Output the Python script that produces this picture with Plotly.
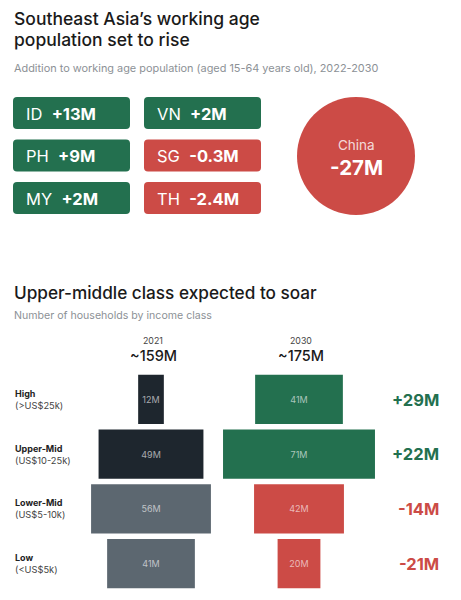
import plotly.graph_objects as go

W, H = 461, 600

# ---------------- data ----------------
tile_codes = ["ID", "PH", "MY", "VN", "SG", "TH"]
tile_values = [13, 9, 2, 2, -0.3, -2.4]
tile_labels = ["+13M", "+9M", "+2M", "+2M", "-0.3M", "-2.4M"]
china_label = "China"
china_value = -27
china_text = "-27M"

classes = ["High", "Upper-Mid", "Lower-Mid", "Low"]
class_ranges = ["(>US$25k)", "(US$10-25k)", "(US$5-10k)", "(<US$5k)"]
years = ["2021", "2030"]
totals = ["~159M", "~175M"]
hh_2021 = [12, 49, 56, 41]
hh_2030 = [41, 71, 42, 20]
changes = [29, 22, -14, -21]

# ---------------- style ----------------
GREEN = "#23704f"
RED = "#cc4b46"
NAVY = "#1e262e"
GREY = "#5c6770"
TXT = "#1a1a1a"
SUB = "#8c9196"
FONT = "Inter"

def px(x):
    return x / W

def py(y):
    return 1 - y / H

def rrect(x0, y0, x1, y1, r):
    X0, X1 = px(x0), px(x1)
    Y0, Y1 = py(y0), py(y1)
    rx, ry = r / W, r / H
    return (f"M {X0+rx},{Y0} L {X1-rx},{Y0} Q {X1},{Y0} {X1},{Y0-ry} "
            f"L {X1},{Y1+ry} Q {X1},{Y1} {X1-rx},{Y1} L {X0+rx},{Y1} "
            f"Q {X0},{Y1} {X0},{Y1+ry} L {X0},{Y0-ry} Q {X0},{Y0} {X0+rx},{Y0} Z")

fig = go.Figure()

# bottom chart: centred bars (scale: px per million)
scale = 2.14
xmax = W / scale
c21, c30 = 151 / scale, 299 / scale
for vals, centre, colors in [
    (hh_2021, c21, [NAVY, NAVY, GREY, GREY]),
    (hh_2030, c30, [GREEN if c > 0 else RED for c in changes]),
]:
    fig.add_trace(go.Bar(
        y=classes, x=vals, base=[centre - v / 2 for v in vals],
        orientation="h", marker=dict(color=colors, line=dict(width=0)),
        width=0.9, text=[f"{v}M" for v in vals], textposition="inside",
        insidetextanchor="middle", constraintext="none",
        textfont=dict(size=9, color="rgba(255,255,255,0.62)", family=FONT),
        hoverinfo="skip", showlegend=False,
    ))

fig.update_layout(
    width=W, height=H, margin=dict(l=0, r=0, t=0, b=0),
    paper_bgcolor="white", plot_bgcolor="white",
    barmode="overlay",
    xaxis=dict(range=[0, xmax], visible=False, domain=[0, 1], fixedrange=True),
    yaxis=dict(categoryorder="array", categoryarray=classes, range=[3.5, -0.5],
               visible=False, domain=[py(591), py(372)], fixedrange=True),
    font=dict(family=FONT, color=TXT),
)

ann = []
def A(x, y, text, size, color=TXT, xanchor="left", weight=None, **kw):
    d = dict(x=px(x), y=py(y), xref="paper", yref="paper", text=text,
             showarrow=False, xanchor=xanchor, yanchor="middle",
             font=dict(size=size, color=color, family=FONT))
    if weight:
        d["font"]["weight"] = weight
    d.update(kw)
    ann.append(d)

# titles
A(12, 18, "Southeast Asia’s working age", 17.5, weight=500)
A(12, 40, "population set to rise", 17.5, weight=500)
A(12, 68, "Addition to working age population (aged 15-64 years old), 2022-2030", 10.9, SUB)

# tiles
shapes = []
col_x = [13, 144]
row_y = [97, 139.5, 182]
tw, th = 117, 32
for i, (code, val, lab) in enumerate(zip(tile_codes, tile_values, tile_labels)):
    cx, ry = col_x[i // 3], row_y[i % 3]
    col = GREEN if val > 0 else RED
    shapes.append(dict(type="path", path=rrect(cx, ry, cx + tw, ry + th, 4),
                       xref="paper", yref="paper", fillcolor=col, line=dict(width=0),
                       layer="below"))
    A(cx + 11, ry + th / 2 + 0.5, f"{code}  <b>{lab}</b>", 16.5, "white")

# China circle
ccx, ccy, cr = 356, 156, 59
shapes.append(dict(type="circle", xref="paper", yref="paper",
                   x0=px(ccx - cr), x1=px(ccx + cr), y0=py(ccy + cr), y1=py(ccy - cr),
                   fillcolor=RED if china_value < 0 else GREEN, line=dict(width=0),
                   layer="below"))
A(ccx, 145, china_label, 13.5, "rgba(255,255,255,0.8)", xanchor="center")
A(ccx, 167, f"<b>{china_text}</b>", 20.5, "white", xanchor="center")

# bottom titles
A(12, 292, "Upper-middle class expected to soar", 17.2, weight=500)
A(12, 316, "Number of households by income class", 10.6, SUB)

for yr, tot, c in zip(years, totals, [c21, c30]):
    xpix = c * scale + 2
    A(xpix, 340, yr, 8.8, "#444", xanchor="center")
    A(xpix, 355, tot, 14.5, TXT, xanchor="center", weight=500)

row_c = [399.5, 454.5, 508.5, 563.5]
for cls, rng, yc, ch in zip(classes, class_ranges, row_c, changes):
    A(13, yc - 6, f"<b>{cls}</b>", 9, "#222")
    A(13, yc + 5.5, rng, 9.3, "#444")
    s = f"+{ch}M" if ch > 0 else f"-{abs(ch)}M"
    A(441, yc, f"<b>{s}</b>", 16.5, GREEN if ch > 0 else RED, xanchor="right")

fig.update_layout(annotations=ann, shapes=shapes)
fig.write_html("out.html", config={"displayModeBar": False},
               post_script="document.body.style.margin='0';document.body.style.overflow='hidden';")
